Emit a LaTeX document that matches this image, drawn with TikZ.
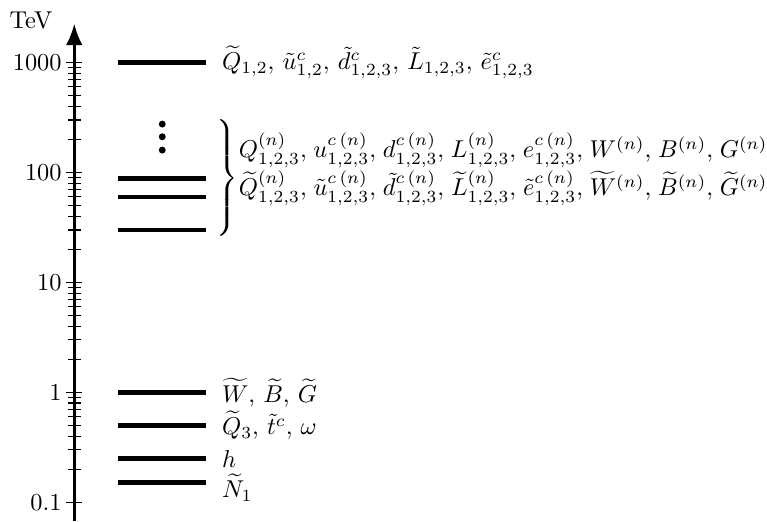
\documentclass[tikz,border=0pt]{standalone}
\usepackage{amsmath}
\usepackage{tikz}
\usetikzlibrary{
  arrows.meta,
  positioning
}
\tikzset{
  axisline/.style={
    line width=1.2pt,
    -{Latex[length=3.1mm,width=2.4mm]},
  },
  majortick/.style={
    line width=0.5pt,
  },
  minortick/.style={
    line width=0.45pt,
  },
  ticklabel/.style={
    left,
    inner sep=1.7pt,
  },
  level/.style={
    line width=1.8pt,
  },
  levellabel/.style={
    right,
    xshift=3.5pt,
    inner sep=2pt,
  },
  dotnode/.style={
    circle,
    fill,
    inner sep=0pt,
    minimum size=1mm,
  },
}
\newcommand{\kksep}{,\mkern2mu}

\begin{document}
\begin{tikzpicture}[
  x=1cm, y=1cm,
  declare function={ey(\v)=0.270+1.587*(log10(\v)+1);},
]
  \useasboundingbox (0,0) rectangle (11.07,7.52);

  % Energy axis
  \coordinate (axbot) at (1.072,0);
  \coordinate (axtop) at (1.072,7.18);
  \draw[axisline] (axbot) -- (axtop);
  \node (tev) at (0.447,7.22) {TeV};

  % Decade ticks and labels
  \foreach \e/\t in {-1/0.1, 0/1, 1/10, 2/100, 3/1000}
    \draw[majortick] (0.957,{0.270+1.587*(\e+1)}) node[ticklabel] (tick\e) {\t} -- ++(0.23,0);

  % Minor ticks
  \foreach \e in {-1,0,1,2}
    \foreach \m in {2,...,9}
      \draw[minortick] (0.985,{0.270+1.587*(\e+1+log10(\m))}) -- ++(0.18,0);

  % Heavy squarks and sleptons
  \draw[level] (1.710,{ey(1000)}) -- (2.980,{ey(1000)})
    node[levellabel] (heavy) {$\widetilde{Q}_{1,2},\, \tilde{u}^c_{1,2},\, \tilde{d}^c_{1,2,3},\, \tilde{L}_{1,2,3},\, \tilde{e}^c_{1,2,3}$};

  % KK tower
  \foreach \y [count=\i] in {5.729,5.546,5.354}
    \node[dotnode] (dot\i) at (2.342,\y) {};
  \draw[level] (1.710,{ey(88)}) -- (2.980,{ey(88)});
  \draw[level] (1.710,{ey(60)}) -- (2.980,{ey(60)});
  \draw[level] (1.710,{ey(30)}) -- (2.980,{ey(30)});

  \node[inner sep=0pt, anchor=east] (brace) at (3.45,4.93) {$\left.\rule[-0.8cm]{0pt}{1.6cm}\right\}$};
  \node[anchor=west, inner sep=2pt] (kktop) at (3.37,5.354)
    {$Q^{(n)}_{1,2,3}\kksep u^{c\,(n)}_{1,2,3}\kksep d^{c\,(n)}_{1,2,3}\kksep L^{(n)}_{1,2,3}\kksep e^{c\,(n)}_{1,2,3}\kksep W^{(n)}\kksep B^{(n)}\kksep G^{(n)}$};
  \node[anchor=west, inner sep=2pt] (kkbot) at (3.37,4.805)
    {$\widetilde{Q}^{(n)}_{1,2,3}\kksep \tilde{u}^{c\,(n)}_{1,2,3}\kksep \tilde{d}^{c\,(n)}_{1,2,3}\kksep \widetilde{L}^{(n)}_{1,2,3}\kksep \tilde{e}^{c\,(n)}_{1,2,3}\kksep \widetilde{W}^{(n)}\kksep \widetilde{B}^{(n)}\kksep \widetilde{G}^{(n)}$};

  % Light states
  \draw[level] (1.710,{ey(1)}) -- (2.980,{ey(1)})
    node[levellabel] (gauginos) {$\widetilde{W},\, \widetilde{B},\, \widetilde{G}$};
  \draw[level] (1.710,{ey(0.5)}) -- (2.980,{ey(0.5)})
    node[levellabel] (thirdgen) {$\widetilde{Q}_3,\, \tilde{t}^c,\, \omega$};
  \draw[level] (1.710,{ey(0.25)}) -- (2.980,{ey(0.25)})
    node[levellabel] (higgs) {$h$};
  \draw[level] (1.710,{ey(0.15)}) -- (2.980,{ey(0.15)})
    node[levellabel, yshift=-2pt] (lsp) {$\widetilde{N}_1$};
\end{tikzpicture}
\end{document}
